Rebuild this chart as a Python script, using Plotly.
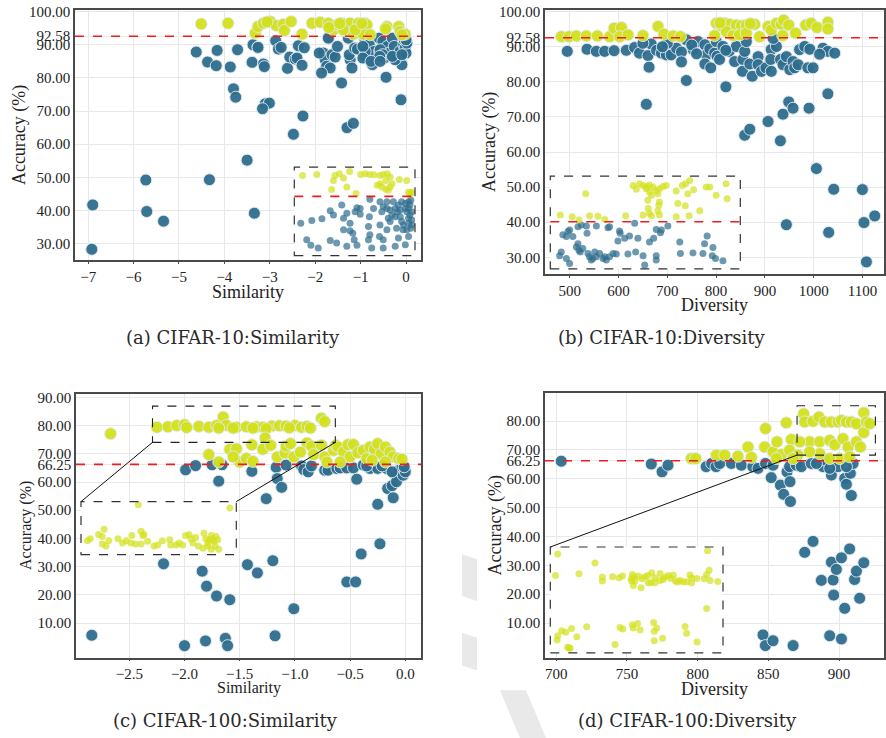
import plotly.graph_objects as go

W, H = 886, 738
BLUE = "#2f6d8e"
YEL = "#d3e11d"
SERIF = "Liberation Serif"

# ---------------- data: (a) CIFAR-10 Similarity ----------------
a_blue = [(-6.92,28.3),(-6.90,41.7),(-5.73,49.2),(-5.71,39.7),(-5.34,36.8),(-4.33,49.3),(-3.50,55.2),(-3.34,39.2),
          (-4.62,87.8),(-4.37,84.8),(-4.18,83.7),(-4.16,88.3),(-3.87,83.3),(-3.71,88.5),(-3.80,76.7),(-3.75,74.2),
          (-3.39,84.7),(-3.37,90.0),(-3.26,89.3),(-3.14,84.2),(-3.12,83.4),(-3.10,72.2),(-3.01,72.4),(-3.16,70.7),
          (-2.87,91.2),(-2.81,88.7),(-2.75,89.2),(-2.61,82.9),(-2.56,86.3),(-2.44,85.7),(-2.48,63.0),(-2.40,86.0),
          (-2.37,89.7),(-2.29,83.8),(-2.27,68.5),(-2.24,89.1),(-1.71,92.3),(-1.82,87.5),(-1.78,85.5),(-1.75,83.5),
          (-1.67,83.0),(-1.63,87.0),(-1.56,86.3),(-1.51,89.5),(-1.86,81.5),(-1.42,78.5),(-1.30,65.0),(-1.16,66.3),
          (-1.27,92.0),(-1.23,85.5),(-1.19,83.0),(-1.25,87.0),(-1.13,89.0),(-1.07,88.7),(-0.91,92.0),(-0.88,86.5),
          (-0.81,90.0),(-0.74,84.0),(-0.70,88.0),(-0.59,92.0),(-0.58,88.0),(-0.51,91.0),(-0.48,86.0),(-0.44,80.2),
          (-0.41,89.5),(-0.37,87.5),(-0.30,92.0),(-0.26,89.5),(-0.13,88.0),(-0.09,84.0),(-0.11,73.4),(-0.05,90.0),
          (-0.02,89.0),(0.0,87.5),(-0.04,91.5),(-0.24,85.5),(-0.57,88.5),(-0.90,88.0),(-0.95,89.5),(-0.95,86.0),
          (-0.51,87.0),(-0.30,86.5),(-0.09,87.0),(0.02,90.5),(0.0,91.5),(-0.58,86.5),(-0.77,85.0),(-0.57,85.0),
          (-1.91,87.5),(-1.71,92.0),(-3.26,89.2)]
a_yellow = [(-4.51,96.3),(-3.92,96.5),(-3.32,93.5),(-3.26,95.5),(-3.14,96.5),(-2.99,97.0),(-2.86,95.8),(-2.70,96.2),
            (-2.68,94.3),(-2.53,97.0),(-2.29,93.2),(-2.07,96.5),(-1.89,96.8),(-1.71,96.5),(-1.60,94.5),(-1.52,96.0),
            (-1.41,96.5),(-1.30,94.0),(-1.23,96.5),(-1.16,93.2),(-1.05,96.5),(-1.01,93.5),(-0.90,96.5),(-0.86,96.0),
            (-0.94,93.2),(-0.42,95.5),(-0.16,95.5),(-0.13,94.0),(-0.02,93.2),(-0.09,93.0),(-1.38,94.5),(-1.12,94.5),
            (-0.79,93.0),(-1.70,95.2),(-1.46,96.4),(-0.97,96.4),(-0.45,94.8),(-3.06,96.9)]
ai_yellow = [(-2.32,95.75),(-2.01,95.9),(-1.65,95.0),(-1.62,95.75),(-1.52,96.0),(-1.43,95.35),(-1.30,96.35),(-1.36,94.0),
             (-1.69,93.6),(-1.16,93.0),(-1.06,95.9),(-0.96,96.0),(-0.86,95.9),(-0.77,95.85),(-0.64,95.75),(-0.57,95.9),
             (-0.48,96.0),(-0.42,95.5),(-0.51,95.0),(-0.64,94.5),(-0.70,94.25),(-0.60,94.0),(-0.51,93.65),(-0.46,93.5),
             (-0.42,94.0),(-0.38,94.5),(-0.22,95.15),(-0.06,95.0),(-0.02,93.25),(0.03,93.1),(0.0,92.9),(0.05,93.25)]
ai_blue = [(-2.36,88.5),(-2.12,88.9),(-1.90,89.2),(-1.72,90.4),(-1.65,89.75),(-1.47,91.25),(-1.43,89.25),(-1.36,90.0),
           (-1.18,90.25),(-1.14,90.85),(-1.07,89.85),(-1.29,87.35),(-1.23,87.0),(-1.20,86.0),(-1.14,85.15),(-1.36,85.0),
           (-1.58,85.5),(-1.72,85.9),(-1.98,84.75),(-2.14,85.15),(-2.23,86.0),(-0.86,92.15),(-0.78,90.75),(-0.87,89.5),
           (-0.89,88.0),(-0.86,86.75),(-0.89,86.0),(-0.82,84.75),(-0.64,91.75),(-0.60,90.25),(-0.64,88.25),(-0.65,86.5),
           (-0.57,86.0),(-0.49,87.5),(-0.46,89.25),(-0.42,88.75),(-0.31,90.75),(-0.28,87.75),(-0.24,86.25),(-0.20,89.5),
           (-0.13,88.25),(-0.09,85.25),(-0.02,86.5),(-0.31,85.0),(-0.57,84.75),(-0.06,90.25),(-0.02,89.25),(0.01,91.25),
           (0.03,92.0),(-0.02,91.75),(-0.09,91.5),(-0.17,91.75),(-0.24,91.25),(-0.35,91.75),(-0.49,91.75),(-0.57,91.0),
           (-0.49,90.75),(-0.42,90.5),(-0.02,88.5),(0.03,87.75),(-0.06,87.5),(0.01,89.75),(-0.02,90.75),(0.05,90.25),
           (-0.09,90.75),(-0.20,90.5),(-0.26,90.25),(-0.31,89.5),(-0.38,89.75),(0.05,89.0),(0.05,88.25),(-0.17,88.75),
           (-0.14,87.5),(-1.07,90.75),(-1.29,88.5),(-1.43,87.5)]

# ---------------- data: (b) CIFAR-10 Diversity ----------------
b_blue = [(495,88.7),(535.5,89.3),(554.6,88.7),(571.7,88.7),(591,88.9),(616,89.0),(633,89.8),(643,88.2),(660.5,87.5),
          (662.6,84.2),(657,73.6),(667,90.8),(678,89.0),(688,88.2),(698,87.7),(708,87.7),(719,89.6),(729,88.5),
          (729,85.7),(739,92.0),(739,80.4),(753,89.2),(763,91.5),(777,90.6),(780,87.7),(777,85.1),(789,84.0),
          (787,89.4),(797,88.2),(802,87.3),(807,86.4),(820,78.6),(800.5,91.5),(814,90.1),(826.5,88.7),(838,85.8),
          (841.5,90.1),(854,83.0),(855,86.4),(858.6,88.7),(862,91.5),(869,85.1),(874,81.6),(886,87.2),(886,84.9),
          (893,83.0),(902,84.0),(913,89.2),(912,86.4),(913,83.0),(932,86.4),(937,84.9),(944,87.2),(951,83.5),
          (957.6,85.8),(961,84.0),(968,84.9),(971,89.2),(981.6,90.1),(988,84.0),(998.6,84.0),(992,89.3),(1019,89.6),
          (1029,88.7),(1012,87.9),(1043,88.2),(923.5,90.1),(917,92.4),(858.6,64.8),(869,66.5),(906.4,68.7),
          (931.7,63.2),(937,70.8),(948.8,74.3),(957.6,72.5),(990.4,72.5),(1029,76.6),(1005.5,55.3),(1041,49.4),
          (944,39.3),(1030.7,37.1),(1099.7,49.3),(1103,39.9),(1125,41.8),(1108,28.7),(700,91.0),(750,90.5),
          (690,90.0),(650,91.0),(820,89.0),(760,88.0)]
b_yellow = [(483,92.9),(498.6,92.9),(513.7,93.1),(534,93.1),(556.7,93.1),(582,92.9),(591,95.3),(605.9,95.5),(602.5,92.9),
            (619.5,93.4),(650,93.2),(681,95.8),(693,93.6),(712,93.1),(727,92.9),(800.5,96.7),(810.8,96.0),(817.6,96.7),
            (828,96.4),(841.5,96.2),(852,96.0),(862,96.2),(879,96.4),(821,94.3),(834.7,93.2),(848,93.4),(862,93.9),
            (889,92.9),(906.4,95.8),(913,94.8),(923.5,96.7),(933.7,96.4),(938.5,97.6),(948.8,96.2),(936.5,93.2),
            (963,93.9),(983.6,96.2),(995,96.7),(1006.8,95.5),(1029,97.0),(1029,95.1),(797,93.2),(808,96.8),(870,96.6)]
bi_yellow = [(491,93.8),(528,93.5),(549,92.9),(570,97.7),(582,93.7),(608,93.6),(629,93.0),(717,99.2),(727,98.5),(737,99.5),
             (748,99.2),(758,99.0),(768,99.3),(779,98.9),(789,98.3),(794,97.7),(799,98.6),(768,98.0),(774,97.4),(763,96.5),
             (764,95.0),(768,94.1),(774,93.7),(799,93.8),(794,94.6),(797,95.6),(799,96.2),(810,99.0),(820,99.2),(851,98.2),
             (856,95.9),(851,93.5),(870,99.2),(880,99.5),(893,100.1),(905,98.4),(887,97.7),(891,93.7),(879,95.5),(924,94.6),
             (944,98.9),(955,98.9),(975,97.4),(1006,99.5),(1009,96.8),(694,93.7),(748,93.8),(758,98.6)]
bi_blue = [(489,86.4),(494,87.1),(499,90.2),(510,89.9),(515,90.8),(520,91.1),(510,85.9),(520,85.0),(530,89.9),(541,88.0),
           (546,88.6),(549,87.4),(553,87.1),(561,87.7),(556,92.0),(546,91.7),(572,91.8),(574,90.5),(577,86.8),(582,86.2),
           (587,85.6),(592,85.9),(598,87.1),(603,86.2),(613,86.8),(624,85.9),(634,85.6),(629,86.2),(639,91.5),(644,91.7),
           (655,86.8),(665,86.7),(670,89.1),(675,90.9),(691,89.6),(701,86.7),(706,90.0),(722,92.3),(725,87.1),(732,89.6),
           (748,86.4),(753,84.7),(768,88.9),(781,89.6),(789,91.2),(789,86.4),(789,85.6),(802,90.6),(805,91.1),(825,91.8),
           (862,88.9),(864,86.8),(903,86.9),(934,86.8),(939,88.6),(947,90.0),(965,87.9),(963,86.4),(973,85.9),(996,85.5),
           (644,86.2),(603,91.8),(677,90.5)]

# ---------------- data: (c) CIFAR-100 Similarity ----------------
c_blue = [(-2.84,5.7),(-2.19,31.0),(-2.0,2.0),(-1.99,64.3),(-1.90,65.8),(-1.84,28.4),(-1.81,3.7),(-1.80,23.1),(-1.75,66.1),
          (-1.71,19.6),(-1.69,60.3),(-1.66,66.1),(-1.63,4.6),(-1.61,2.0),(-1.59,18.3),(-1.43,30.7),(-1.39,63.8),(-1.34,27.8),
          (-1.26,54.1),(-1.20,32.1),(-1.18,5.5),(-1.17,65.2),(-1.16,61.2),(-1.12,58.1),(-1.08,66.0),(-1.01,15.1),(-0.94,65.7),
          (-0.92,64.4),(-0.88,63.6),(-0.73,64.2),(-0.70,64.2),(-0.62,64.8),(-0.59,65.0),(-0.53,65.0),(-0.53,24.6),(-0.47,65.0),
          (-0.45,24.6),(-0.44,61.0),(-0.40,34.5),(-0.38,66.0),(-0.32,64.8),(-0.25,64.8),(-0.25,52.1),(-0.23,38.1),(-0.17,64.8),
          (-0.16,57.7),(-0.12,58.7),(-0.11,54.4),(-0.09,62.4),(-0.08,60.1),(-0.06,64.2),(-0.03,65.0),(-0.02,62.4),(0.0,63.6),
          (-0.01,65.4),(-0.12,63.6),(-0.21,65.7),(-0.35,65.7),(-0.85,65.7)]
c_yellow = [(-2.67,77.1),(-1.65,83.0),(-0.76,82.6),(-0.73,81.4),
            (-2.25,79.4),(-2.15,79.55),(-2.07,80.0),(-2.0,80.3),(-1.87,79.7),(-1.78,79.4),(-1.71,80.0),(-1.62,80.1),
            (-1.53,79.4),(-1.44,79.55),(-1.35,79.55),(-1.29,79.4),(-1.21,79.8),(-1.14,79.9),(-1.08,79.8),(-1.0,80.0),
            (-0.94,79.4),(-0.89,79.7),(-0.86,79.1),(-1.98,79.3),(-1.69,79.1),(-1.56,79.1),(-1.38,79.1),(-1.26,78.9),(-1.05,79.2),
            (-1.78,69.7),(-1.69,67.1),(-1.59,71.6),(-1.53,71.8),(-1.50,67.1),(-1.44,68.3),(-1.38,67.3),(-1.39,73.2),(-1.27,75.6),
            (-1.29,71.6),(-1.22,73.0),(-1.16,68.9),(-1.09,70.3),(-1.08,72.7),(-1.04,73.6),(-1.01,68.9),(-0.89,73.8),(-0.85,72.7),
            (-0.83,69.7),(-0.76,73.0),(-0.73,68.9),(-0.65,71.2),(-0.63,73.0),(-0.61,72.4),(-0.56,70.6),(-0.52,73.2),(-0.47,73.3),
            (-0.50,68.9),(-0.43,70.4),(-0.38,71.2),(-0.35,68.3),(-0.32,72.4),(-0.28,71.6),(-0.25,73.6),(-0.22,70.0),(-0.18,72.4),
            (-0.14,70.6),(-0.11,68.9),(-0.06,68.3),(-0.03,68.1),(-0.71,67.1),(-0.59,67.1),(-0.30,67.7),(-0.18,67.1),(-0.95,70.6),
            (-1.56,68.9)]
ci_yellow = [(-2.23,78.3),(-2.20,78.5),(-2.11,78.9),(-2.07,78.7),(-2.05,79.4),(-2.07,78.0),(-2.03,77.8),(-2.0,78.3),(-1.90,78.5),
             (-1.85,78.1),(-1.81,78.3),(-1.75,78.8),(-1.76,78.1),(-1.71,78.0),(-1.65,79.2),(-1.63,78.8),(-1.62,78.9),(-1.58,78.25),
             (-1.65,78.0),(-1.51,77.8),(-1.47,77.9),(-1.42,78.3),(-1.34,78.4),(-1.33,77.9),(-1.27,77.9),(-1.24,78.1),(-1.20,77.9),
             (-1.17,78.8),(-1.13,78.9),(-1.11,78.5),(-1.09,78.1),(-1.06,78.6),(-1.03,77.8),(-0.97,79.0),(-0.95,78.5),(-0.93,77.8),
             (-0.98,77.6),(-0.89,78.8),(-0.88,78.4),(-0.84,78.7),(-0.82,78.4),(-0.85,77.8),(-0.81,77.5),(-0.89,77.5),(-0.93,78.1),
             (-1.68,81.7),(-0.69,81.4),(-0.86,78.25),(-0.91,78.4)]

# ---------------- data: (d) CIFAR-100 Diversity ----------------
d_blue = [(703.5,66.1),(767.2,65.1),(774.8,62.4),(779,64.7),(806,64.2),(809.9,65.3),(813,64.2),(815.6,65.3),(823.8,65.3),
          (830.9,64.7),(839,64.2),(842.7,63.6),(848,65.3),(852,60.4),(853.3,64.7),(858.5,57.8),(860.8,54.6),(863.2,62.4),
          (865,64.2),(865.3,59.0),(865.6,52.1),(869.8,64.7),(873.3,64.2),(875.7,34.5),(880.4,65.3),(881.6,38.3),(887.5,24.8),
          (888.7,64.2),(889.9,66.5),(894.6,61.3),(894.6,31.1),(895.8,24.9),(896.2,19.7),(898.1,28.6),(899.3,64.2),(901.7,32.6),
          (904,60.1),(904,15.1),(905.2,58.1),(907.5,35.7),(908,61.9),(908.7,54.2),(911,25.1),(912.3,28.0),(914.6,18.6),
          (917.5,30.9),(909.9,65.3),(905.2,64.2),(846.2,5.9),(847.9,2.2),(853.3,3.9),(867.5,2.2),(893.4,5.6),(901.7,4.5),
          (884,65.3),(893.4,63.6)]
d_yellow = [(795.5,67.0),(798.6,67.0),(813.2,68.2),(819.1,68.2),(828.5,67.8),(835.6,71.0),(838,67.4),(848,77.4),(847.4,71.0),
            (853.3,69.3),(856.1,72.8),(859.2,68.4),(862.7,79.4),(866.3,73.6),(865,69.9),(870.9,68.2),(875,82.5),(875.7,79.7),
            (879.2,72.8),(881.6,79.9),(885.8,81.4),(886.3,72.8),(889.9,79.7),(893.4,73.3),(894.6,79.7),(897,71.8),(899.3,79.7),
            (901.7,80.2),(902.8,73.9),(905.2,79.7),(906.4,71.0),(908.7,79.7),(912.3,79.1),(912.3,72.8),(915.1,71.0),(917.5,82.9),
            (917.5,76.0),(919.3,79.7),(921.7,79.1),(900.5,67.0),(886.3,68.7),(879.2,69.3),(872.2,72.8),(893.4,67.0),(907.5,67.6),
            (867.5,67.0),(855.7,67.0)]
di_yellow = [(872.4,82.95),(871.7,79.7),(879.3,79.95),(884.5,81.6),(886.9,79.45),(886.9,78.85),(890.2,79.5),(892.3,79.35),
             (893.4,79.6),(896.2,79.2),(896.6,79.85),(897.1,79.45),(896.9,78.2),(897.5,78.85),(898.5,79.6),(899.4,77.85),
             (899.8,79.2),(900.7,79.5),(901.6,79.7),(902.9,80.1),(902.6,78.6),(903.9,79.35),(905.6,80.0),(905.6,78.95),
             (906.6,79.1),(907.2,79.45),(908.3,79.7),(909.1,79.25),(909.9,79.75),(910.6,78.85),(911.3,78.7),(912.1,78.95),
             (913.1,78.75),(914.2,78.75),(915.3,79.75),(915.8,79.35),(915.8,78.6),(917.5,79.25),(919.9,79.2),(920.7,79.85),
             (921.5,80.5),(921.0,83.45),(921.8,78.95),(924.3,78.8),(920.7,74.7),(901.8,78.6),(903.9,78.6),(896.4,78.85),
             (872.4,70.6),(872.2,69.95),(873.7,71.35),(875.0,71.1),(876.9,71.7),(878.6,70.45),(881.8,71.95),(875.6,68.85),
             (876.4,68.7),(891.0,69.25),(892.6,71.85),(893.5,71.6),(896.6,72.25),(896.9,71.75),(898.3,72.45),(899.1,71.45),
             (903.5,72.6),(904.5,71.75),(903.7,71.25),(903.7,69.85),(906.4,70.2),(913.7,72.0),(914.2,70.95),(917.6,69.65),
             (876.1,68.75)]

# thresholds and tick labels
thr_c10 = 92.58
thr_c100 = 66.25
a_xticks = [-7, -6, -5, -4, -3, -2, -1, 0]
b_xticks = [500, 600, 700, 800, 900, 1000, 1100]
c_xticks = [-2.5, -2.0, -1.5, -1.0, -0.5, 0.0]
d_xticks = [700, 750, 800, 850, 900]
c10_yticks = [30, 40, 50, 60, 70, 80, 90, thr_c10, 100]
c100c_yticks = [10, 20, 30, 40, 50, 60, thr_c100, 70, 80, 90]
c100d_yticks = [10, 20, 30, 40, 50, 60, thr_c100, 70, 80]
captions = ["(a) CIFAR-10:Similarity", "(b) CIFAR-10:Diversity", "(c) CIFAR-100:Similarity", "(d) CIFAR-100:Diversity"]

# ---------------- layout geometry (pixel boxes) ----------------
def dom(x0, x1, y0, y1):
    return [x0 / W, x1 / W], [1 - y1 / H, 1 - y0 / H]

def fmt_x(v, dec):
    s = f"{abs(v):.{dec}f}" if dec else f"{abs(v):.0f}"
    return ("\u2212" + s) if v < 0 else s

panels = [
    dict(box=(75, 421, 5, 257), xr=[-7.29, 0.33], yr=[25.0, 100.5], xt=a_xticks, xdec=0, yt=c10_yticks,
         blue=a_blue, yel=a_yellow, thr=thr_c10, xtitle="Similarity", tsize=18, tdy=32),
    dict(box=(545, 884, 5, 271), xr=[449.4, 1144], yr=[25.2, 100.5], xt=b_xticks, xdec=0, yt=c10_yticks,
         blue=b_blue, yel=b_yellow, thr=thr_c10, xtitle="Diversity", tsize=18, tdy=31),
    dict(box=(76, 421, 392, 657), xr=[-2.983, 0.142], yr=[-2.2, 91.06], xt=c_xticks, xdec=1, yt=c100c_yticks,
         blue=c_blue, yel=c_yellow, thr=thr_c100, xtitle="Similarity", tsize=16, tdy=31),
    dict(box=(545, 884, 391, 657), xr=[692.0, 931.8], yr=[-1.95, 89.6], xt=d_xticks, xdec=0, yt=c100d_yticks,
         blue=d_blue, yel=d_yellow, thr=thr_c100, xtitle="Diversity", tsize=18, tdy=32),
]
insets = [
    dict(box=(294.3, 415, 163.3, 252.3), xr=[-2.5, 0.12], yr=[83.6, 97.0], blue=ai_blue, yel=ai_yellow, thr=thr_c10),
    dict(box=(550.3, 740.3, 172.3, 265.7), xr=[460, 1050], yr=[84.0, 100.9], blue=bi_blue, yel=bi_yellow, thr=thr_c10),
    dict(box=(81, 236.3, 500, 553.3), xr=[-2.3, -0.62], yr=[77.0, 82.0], blue=[], yel=ci_yellow, thr=None),
    dict(box=(550.3, 723, 545.7, 652.3), xr=[870, 926], yr=[68.0, 84.0], blue=[], yel=di_yellow, thr=None),
]

fig = go.Figure()
layout = dict(width=W, height=H, margin=dict(l=0, r=0, t=0, b=0), paper_bgcolor="white", plot_bgcolor="white",
              showlegend=False, font=dict(family=SERIF, color="#222", size=15))
shapes, annotations = [], []

# faint grey watermark fragments visible between the panels
watermark = [
    [(462, 553), (477, 558), (477, 600), (462, 595)],
    [(462, 632), (477, 637), (477, 670), (462, 665)],
    [(500, 690), (526, 690), (546, 738), (520, 738)],
]
for poly in watermark:
    path = "M " + " L ".join(f"{x / W:.5f},{1 - y / H:.5f}" for x, y in poly) + " Z"
    shapes.append(dict(type="path", xref="paper", yref="paper", path=path, fillcolor="#e9e9e9",
                       line=dict(width=0), layer="below"))

def unzip(pts):
    return [p[0] for p in pts], [p[1] for p in pts]

for i, p in enumerate(panels, start=1):
    xd, yd = dom(*p["box"])
    sfx = "" if i == 1 else str(i)
    tf = dict(family=SERIF, size=15, color="#222")
    layout["xaxis" + sfx] = dict(domain=xd, range=p["xr"], anchor="y" + sfx, tickvals=p["xt"],
                                 ticktext=[fmt_x(v, p["xdec"]) for v in p["xt"]], showgrid=True, gridcolor="#e8e8e8",
                                 zeroline=False, showline=True, mirror=True, linecolor="#4a4a4a", linewidth=1.5,
                                 ticks="outside", ticklen=2, tickcolor="#4a4a4a", tickfont=tf)
    layout["yaxis" + sfx] = dict(domain=yd, range=p["yr"], anchor="x" + sfx, tickvals=p["yt"],
                                 ticktext=[f"{v:.2f}" for v in p["yt"]], showgrid=True, gridcolor="#e8e8e8",
                                 zeroline=False, showline=True, mirror=True, linecolor="#4a4a4a", linewidth=1.5,
                                 ticks="", tickfont=tf)
    for pts, col in ((p["blue"], BLUE), (p["yel"], YEL)):
        x, y = unzip(pts)
        fig.add_trace(go.Scatter(x=x, y=y, mode="markers", xaxis="x" + sfx, yaxis="y" + sfx,
                                 marker=dict(size=12, color=col, opacity=0.95,
                                             line=dict(width=1, color="rgba(225,236,243,0.95)"))))
    shapes.append(dict(type="line", xref=f"x{sfx} domain", yref="y" + sfx, x0=0, x1=1, y0=p["thr"], y1=p["thr"],
                       line=dict(color="#ee1c1c", width=1.6, dash="dash")))
    # axis titles
    x0, x1, y0, y1 = p["box"]
    annotations.append(dict(xref="paper", yref="paper", x=(x0 + x1) / 2 / W, y=1 - (y1 + p["tdy"]) / H,
                            text=p["xtitle"], showarrow=False, font=dict(family=SERIF, size=p["tsize"], color="#222"),
                            xanchor="center", yanchor="middle"))
    annotations.append(dict(xref="paper", yref="paper", x=(x0 - 56 if i in (1, 2) else x0 - 50) / W,
                            y=1 - ((y0 + y1) / 2) / H, text="Accuracy (%)", textangle=-90, showarrow=False,
                            font=dict(family=SERIF, size=p["tsize"], color="#222"), xanchor="center", yanchor="middle"))

for j, q in enumerate(insets, start=5):
    xd, yd = dom(*q["box"])
    layout[f"xaxis{j}"] = dict(domain=xd, range=q["xr"], anchor=f"y{j}", showticklabels=False, showgrid=False,
                               zeroline=False, showline=False, ticks="")
    layout[f"yaxis{j}"] = dict(domain=yd, range=q["yr"], anchor=f"x{j}", showticklabels=False, showgrid=False,
                               zeroline=False, showline=False, ticks="")
    for pts, col in ((q["blue"], BLUE), (q["yel"], YEL)):
        if not pts:
            continue
        x, y = unzip(pts)
        fig.add_trace(go.Scatter(x=x, y=y, mode="markers", xaxis=f"x{j}", yaxis=f"y{j}",
                                 marker=dict(size=7, color=col, opacity=0.7, line=dict(width=0))))
    if q["thr"] is not None:
        shapes.append(dict(type="line", xref=f"x{j} domain", yref=f"y{j}", x0=0, x1=1, y0=q["thr"], y1=q["thr"],
                           line=dict(color="#ee1c1c", width=1.6, dash="dash")))
    shapes.append(dict(type="rect", xref=f"x{j} domain", yref=f"y{j} domain", x0=0, x1=1, y0=0, y1=1,
                       line=dict(color="#333", width=1.2, dash="dash")))

# source rectangles and connector lines for (c) and (d)
def d2p(v, rng, dm):
    return dm[0] + (v - rng[0]) / (rng[1] - rng[0]) * (dm[1] - dm[0])

src = {3: dict(x=[-2.29, -0.634], y=[74.05, 86.9], inset=insets[2], both=True),
       4: dict(x=[870.3, 925.7], y=[68.2, 85.3], inset=insets[3], both=False)}
for k, s in src.items():
    p = panels[k - 1]
    shapes.append(dict(type="rect", xref=f"x{k}", yref=f"y{k}", x0=s["x"][0], x1=s["x"][1], y0=s["y"][0], y1=s["y"][1],
                       line=dict(color="#222", width=1.1, dash="dash")))
    pxd, pyd = dom(*p["box"])
    ixd, iyd = dom(*s["inset"]["box"])
    bl = (d2p(s["x"][0], p["xr"], pxd), d2p(s["y"][0], p["yr"], pyd))
    br = (d2p(s["x"][1], p["xr"], pxd), d2p(s["y"][0], p["yr"], pyd))
    shapes.append(dict(type="line", xref="paper", yref="paper", x0=ixd[0], y0=iyd[1], x1=bl[0], y1=bl[1],
                       line=dict(color="#111", width=1)))
    if s["both"]:
        shapes.append(dict(type="line", xref="paper", yref="paper", x0=ixd[1], y0=iyd[1], x1=br[0], y1=br[1],
                           line=dict(color="#111", width=1)))

# captions
cap_pos = [(233, 335), (662, 335), (225, 720), (687, 720)]
for (cx, cy), t in zip(cap_pos, captions):
    annotations.append(dict(xref="paper", yref="paper", x=cx / W, y=1 - cy / H, text=t, showarrow=False,
                            font=dict(family="DejaVu Serif", size=18, color="#2a2a2a"), xanchor="center", yanchor="middle"))

layout["shapes"] = shapes
layout["annotations"] = annotations
fig.update_layout(**layout)
fig.write_html("out.html")
